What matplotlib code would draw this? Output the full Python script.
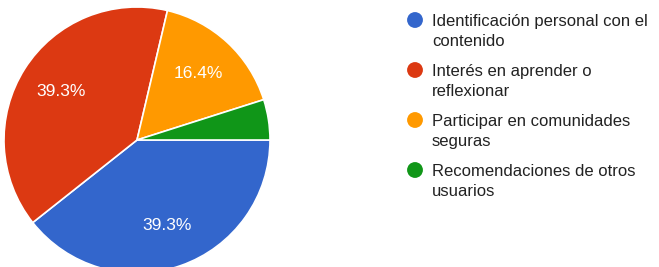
import matplotlib
matplotlib.use('Agg')
import matplotlib.pyplot as plt

labels = ['Identificación personal con el\ncontenido',
          'Interés en aprender o\nreflexionar',
          'Participar en comunidades\nseguras',
          'Recomendaciones de otros\nusuarios']
values = [39.3, 39.3, 16.4, 4.9]
colors = ['#3366cc', '#dc3912', '#ff9900', '#109618']

plt.rcParams['font.family'] = ['Liberation Sans', 'DejaVu Sans']

W, H = 659, 267
fig = plt.figure(figsize=(W / 100, H / 100), dpi=100)
fig.patch.set_facecolor('white')

# pie: center (137,140) px, radius 133 px
cx, cy, r = 137, 140, 133
ax = fig.add_axes([(cx - r) / W, (H - cy - r) / H, 2 * r / W, 2 * r / H])
wedges, texts, autotexts = ax.pie(
    values, colors=colors, startangle=0, counterclock=False,
    autopct=lambda p: '%.1f%%' % p if p > 5 else '',
    pctdistance=0.68,
    wedgeprops=dict(edgecolor='white', linewidth=1.2),
    textprops=dict(color='white', fontsize=12.5))
ax.set_xlim(-1, 1)
ax.set_ylim(-1, 1)
ax.set_aspect('equal')
ax.axis('off')

# legend drawn in pixel coordinates
lg = fig.add_axes([0, 0, 1, 1])
lg.set_xlim(0, W)
lg.set_ylim(H, 0)
lg.axis('off')
lg.patch.set_alpha(0)
for i, (lab, col) in enumerate(zip(labels, colors)):
    y = 20 + i * 50
    lg.scatter([415], [y], s=130, color=col, edgecolors='none')
    lg.text(432, y + 11.5, lab, fontsize=12, color='#222222',
            va='center', ha='left', linespacing=1.45)

fig.savefig('out.png', dpi=100, facecolor='white')
